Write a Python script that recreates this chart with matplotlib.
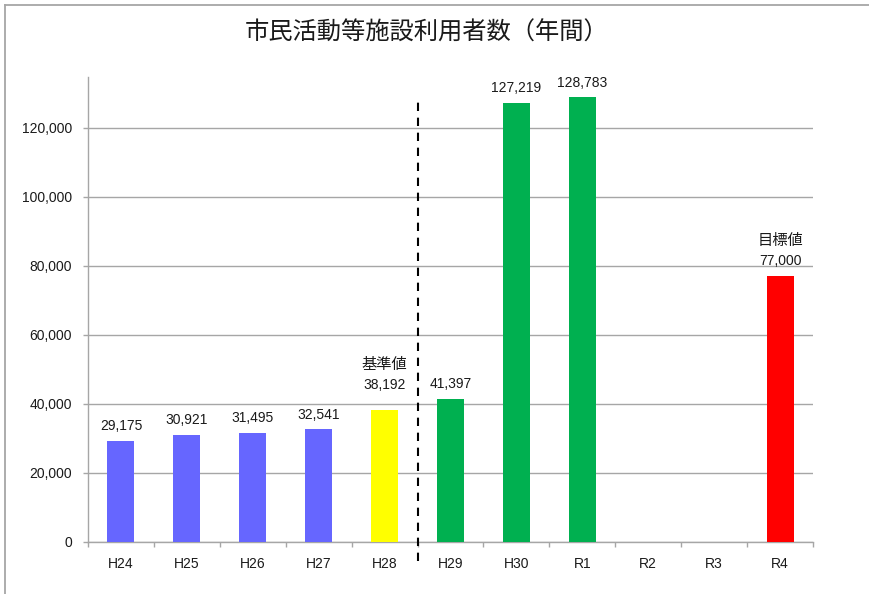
import numpy as np
import matplotlib
matplotlib.use('Agg')
from matplotlib import pyplot as plt
from matplotlib.lines import Line2D

plt.rcParams['font.family'] = ['Liberation Sans', 'Noto Sans CJK JP', 'DejaVu Sans']

# data
years = ['H24', 'H25', 'H26', 'H27', 'H28', 'H29', 'H30', 'R1', 'R2', 'R3', 'R4']
users = [29175, 30921, 31495, 32541, 38192, 41397, 127219, 128783, np.nan, np.nan, 77000]
colors = ['#6666FF'] * 4 + ['#FFFF00'] + ['#00B050'] * 3 + ['#00B050'] * 2 + ['#FF0000']
notes = ['', '', '', '', '基準値', '', '', '', '', '', '目標値']
yticks = [0, 20000, 40000, 60000, 80000, 100000, 120000]
title = '市民活動等施設利用者数（年間）'

W, H = 869, 594
fig = plt.figure(figsize=(W / 100, H / 100), dpi=100)
ax = fig.add_axes([88 / W, 1 - 541.7 / H, (813 - 88) / W, (541.7 - 77.3) / H])

x = np.arange(len(years))
vals = np.nan_to_num(np.array(users, dtype=float))
ax.bar(x, vals, width=0.41, color=colors, zorder=3)

# value labels (+ note line above for base / target)
for i, (v, n) in enumerate(zip(users, notes)):
    if np.isnan(v):
        continue
    off = 18 if n == '基準値' else 10.5
    ax.annotate(f'{int(v):,}', (i, v), xytext=(0, off), textcoords='offset points',
                ha='center', va='center', fontsize=10, color='#1a1a1a')
    if n:
        ax.annotate(n, (i, v), xytext=(0, off + 14.5), textcoords='offset points',
                    ha='center', va='center', fontsize=11, color='#1a1a1a')

# dashed divider between H28 and H29
ax.plot([4.5, 4.5], [-5500, 128000], ls=(0, (4, 3.2)), color='black', lw=1.5,
        clip_on=False, zorder=4)

ax.set_xlim(-0.5, len(years) - 0.5)
ax.set_ylim(0, 134600)
ax.set_yticks(yticks)
ax.set_yticklabels([f'{t:,}' for t in yticks])
ax.set_xticks(x)
ax.set_xticklabels(years)
ax.set_xticks(np.arange(-0.5, len(years)), minor=True)
ax.tick_params(axis='x', which='major', length=0, pad=11, labelsize=10, colors='#1a1a1a')
ax.tick_params(axis='x', which='minor', length=3.5, width=1, color='#a6a6a6')
ax.tick_params(axis='y', length=3.5, width=1, color='#a6a6a6', pad=8,
               labelsize=10, labelcolor='#1a1a1a')

ax.grid(axis='y', color='#a6a6a6', lw=1, zorder=0)
for s in ['top', 'right']:
    ax.spines[s].set_visible(False)
for s in ['left', 'bottom']:
    ax.spines[s].set_color('#a6a6a6')
    ax.spines[s].set_linewidth(1)

fig.text(427 / W, 1 - 33 / H, title, ha='center', va='center', fontsize=17.5, color='#1a1a1a')

# chart area border (only left and top visible)
fig.add_artist(Line2D([4.5 / W, 4.5 / W], [0, 1 - 4.5 / H], color='#a6a6a6', lw=1.3))
fig.add_artist(Line2D([4.5 / W, 1], [1 - 4.5 / H, 1 - 4.5 / H], color='#a6a6a6', lw=1.3))

fig.savefig('out.png', dpi=100)
